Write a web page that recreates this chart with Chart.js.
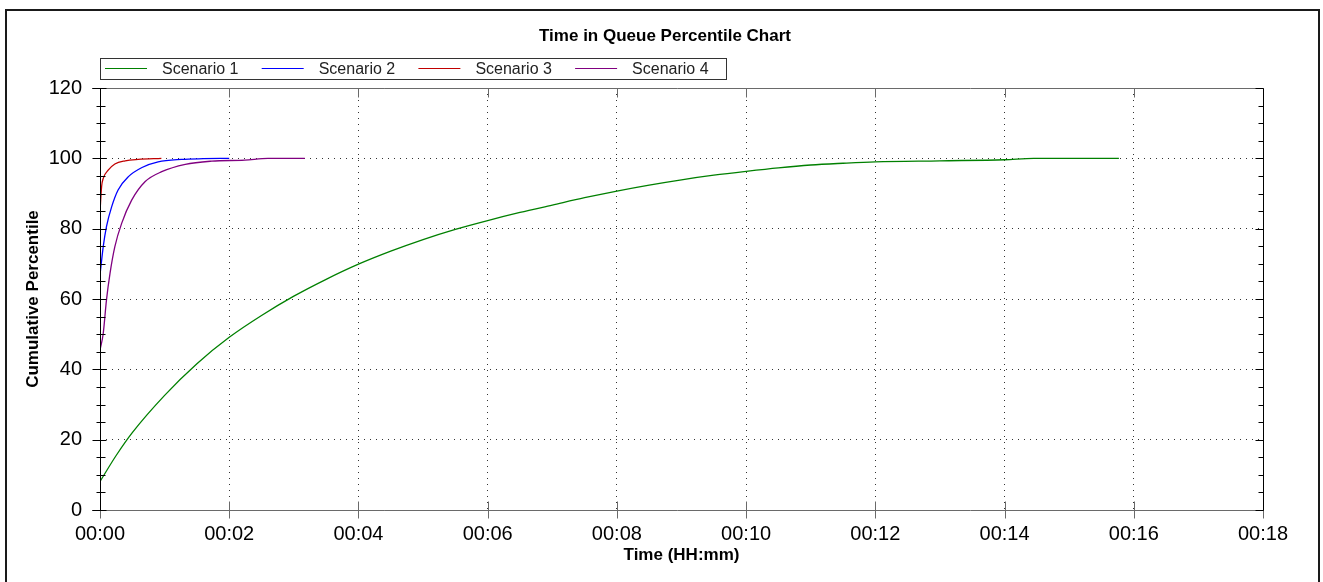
<!DOCTYPE html>
<html>
<head>
<meta charset="utf-8">
<title>Time in Queue Percentile Chart</title>
<script src="https://cdn.jsdelivr.net/npm/chart.js@4.4.1/dist/chart.umd.min.js"></script>
<style>
  html, body { margin: 0; padding: 0; background: #ffffff; }
  #wrap { width: 1323px; height: 582px; position: relative; }
  canvas { display: block; }
</style>
</head>
<body>
<div id="wrap"><canvas id="chart" width="1323" height="582"></canvas></div>
<script>
// ---- chart data -------------------------------------------------------
const chartTitle = 'Time in Queue Percentile Chart';
const xAxisTitle = 'Time (HH:mm)';
const yAxisTitle = 'Cumulative Percentile';

const seriesNames  = ['Scenario 1', 'Scenario 2', 'Scenario 3', 'Scenario 4'];
const seriesColors = ['rgb(0,128,0)', 'rgb(0,0,255)', 'rgb(192,0,0)', 'rgb(128,0,128)'];

// time in queue (minutes) and cumulative percentile for each scenario
const s1Minutes = [0, 0.25, 0.5, 1.0, 1.5, 2.0, 2.5, 3.0, 3.5, 4.0, 4.5, 5.0, 5.5, 6.0, 6.5, 7.0, 7.5, 8.0, 8.5, 9.0, 9.5, 10.0, 10.5, 11.0, 11.5, 12.0, 13.0, 14.0, 14.45, 15.77];
const s1Percent = [8.1, 15.5, 22.0, 32.6, 41.6, 49.1, 55.3, 60.8, 65.6, 69.9, 73.6, 76.9, 79.8, 82.3, 84.6, 86.7, 88.8, 90.7, 92.4, 93.9, 95.2, 96.3, 97.3, 98.1, 98.6, 99.0, 99.3, 99.6, 100, 100];

const s2Minutes = [0, 0.05, 0.1, 0.18, 0.28, 0.44, 0.65, 0.9, 1.26, 1.6, 2.0];
const s2Percent = [66.8, 74.9, 80.6, 86.2, 91.0, 94.8, 97.4, 99.0, 99.7, 99.9, 100];

const s3Minutes = [0, 0.025, 0.05, 0.13, 0.23, 0.39, 0.59, 0.95];
const s3Percent = [84.8, 92.0, 94.3, 96.7, 98.4, 99.3, 99.7, 100];

const s4Minutes = [0, 0.05, 0.1, 0.155, 0.23, 0.335, 0.49, 0.7, 0.955, 1.32, 1.73, 2.24, 2.6, 3.17];
const s4Percent = [45.5, 50.2, 59.7, 67.3, 74.9, 81.5, 88.1, 93.4, 96.2, 98.3, 99.2, 99.5, 100, 100];

const xTickLabels = ['00:00', '00:02', '00:04', '00:06', '00:08', '00:10', '00:12', '00:14', '00:16', '00:18'];
const yTickLabels = ['0', '20', '40', '60', '80', '100', '120'];

// ---- helpers ----------------------------------------------------------
const FONT = '"Liberation Sans", Arial, Helvetica, sans-serif';
const X_MAX = 18, Y_MAX = 120;

function toPoints(xs, ys) {
  return xs.map((x, i) => ({ x: x, y: ys[i] }));
}

const seriesMinutes = [s1Minutes, s2Minutes, s3Minutes, s4Minutes];
const seriesPercent = [s1Percent, s2Percent, s3Percent, s4Percent];

const datasets = seriesNames.map((name, i) => ({
  label: name,
  data: toPoints(seriesMinutes[i], seriesPercent[i]),
  borderColor: seriesColors[i],
  backgroundColor: seriesColors[i],
  borderWidth: 1.3,
  pointRadius: 0,
  pointHoverRadius: 0,
  cubicInterpolationMode: 'monotone',
  fill: false
}));

const gridDots = 'rgba(0,0,0,0.8)';

// frame, tick marks, title and boxed legend
const framePlugin = {
  id: 'frame',
  beforeDraw(chart) {
    const { ctx, width, height } = chart;
    ctx.save();
    ctx.fillStyle = '#ffffff';
    ctx.fillRect(0, 0, width, height);
    // outer border of the chart panel
    ctx.strokeStyle = '#1a1a1a';
    ctx.lineWidth = 2;
    ctx.strokeRect(6, 10, 1313, 620);
    ctx.restore();
  },
  afterDatasetsDraw(chart) {
    const { ctx, chartArea: a, scales } = chart;
    const xs = scales.x, ys = scales.y;
    const L = Math.round(a.left) + 0.5, R = Math.round(a.right) + 0.5;
    const T = Math.round(a.top) + 0.5, B = Math.round(a.bottom) + 0.5;
    const seg = (x1, y1, x2, y2) => { ctx.beginPath(); ctx.moveTo(x1, y1); ctx.lineTo(x2, y2); ctx.stroke(); };
    ctx.save();
    ctx.lineWidth = 1;

    // top and bottom edges (grey)
    ctx.strokeStyle = '#6a6a6a';
    seg(a.left - 8, T, R, T);
    seg(a.left - 8, B, R, B);
    // x major ticks
    for (let v = 0; v <= X_MAX; v += 2) {
      const px = Math.round(xs.getPixelForValue(v)) + 0.5;
      seg(px, B - 9, px, B + 8);
      seg(px, T, px, T + 9);
    }

    // left and right edges (black)
    ctx.strokeStyle = '#000000';
    seg(L, T, L, B);
    seg(R, T, R, B);
    // y ticks: major every 20, minor every 5
    for (let v = 0; v <= Y_MAX; v += 5) {
      const py = Math.round(ys.getPixelForValue(v)) + 0.5;
      const major = v % 20 === 0;
      if (major) {
        seg(L - 8, py, L + 6, py);
        seg(R - 8, py, R, py);
      } else {
        seg(L - 4, py, L + 5, py);
        seg(R - 5, py, R, py);
      }
    }
    ctx.restore();
  },
  afterDraw(chart) {
    const { ctx } = chart;
    ctx.save();
    // title
    ctx.fillStyle = '#000000';
    ctx.font = 'bold 17px ' + FONT;
    ctx.textAlign = 'center';
    ctx.textBaseline = 'alphabetic';
    ctx.fillText(chartTitle, 665, 41);

    // legend box
    const boxL = 100.5, boxT = 58.5, boxR = 726.5, boxB = 79.5;
    ctx.strokeStyle = '#333333';
    ctx.lineWidth = 1;
    ctx.strokeRect(boxL, boxT, boxR - boxL, boxB - boxT);
    ctx.font = '16px ' + FONT;
    ctx.textAlign = 'left';
    chart.data.datasets.forEach((ds, i) => {
      const x0 = 105 + i * 156.7;
      ctx.strokeStyle = ds.borderColor;
      ctx.lineWidth = 1;
      ctx.beginPath();
      ctx.moveTo(x0, 68.5);
      ctx.lineTo(x0 + 42, 68.5);
      ctx.stroke();
      ctx.fillStyle = '#222222';
      ctx.fillText(ds.label, x0 + 57, 73.5);
    });
    ctx.restore();
  }
};

new Chart(document.getElementById('chart'), {
  type: 'line',
  data: { datasets: datasets },
  plugins: [framePlugin],
  options: {
    responsive: false,
    animation: false,
    devicePixelRatio: 1,
    layout: { padding: { top: 88, right: 60, bottom: 0, left: 0 } },
    plugins: {
      legend: { display: false },
      title: { display: false },
      tooltip: { enabled: false }
    },
    scales: {
      x: {
        type: 'linear',
        min: 0,
        max: X_MAX,
        afterFit(scale) { scale.height = 72; },
        ticks: {
          stepSize: 2,
          padding: 12,
          maxRotation: 0,
          autoSkip: false,
          color: '#000000',
          font: { family: FONT, size: 20 },
          callback: (value, index) => xTickLabels[index]
        },
        grid: {
          drawTicks: false,
          lineWidth: 1,
          color: (c) => (c.tick && (c.tick.value === 0 || c.tick.value === X_MAX)) ? 'rgba(0,0,0,0)' : gridDots
        },
        border: { display: false, dash: [1, 5] },
        title: {
          display: true,
          text: xAxisTitle,
          color: '#000000',
          font: { family: FONT, size: 17, weight: 'bold' },
          padding: { top: 0, bottom: 16 }
        }
      },
      y: {
        type: 'linear',
        min: 0,
        max: Y_MAX,
        afterFit(scale) { scale.width = 100; },
        ticks: {
          stepSize: 20,
          padding: 18,
          color: '#000000',
          font: { family: FONT, size: 20 },
          callback: (value, index) => yTickLabels[index]
        },
        grid: {
          drawTicks: false,
          lineWidth: 1,
          color: (c) => (c.tick && (c.tick.value === 0 || c.tick.value === Y_MAX)) ? 'rgba(0,0,0,0)' : gridDots
        },
        border: { display: false, dash: [1, 5] },
        title: {
          display: true,
          text: yAxisTitle,
          color: '#000000',
          font: { family: FONT, size: 17, weight: 'bold' },
          padding: { top: 23, bottom: 0 }
        }
      }
    }
  }
});
</script>
</body>
</html>
